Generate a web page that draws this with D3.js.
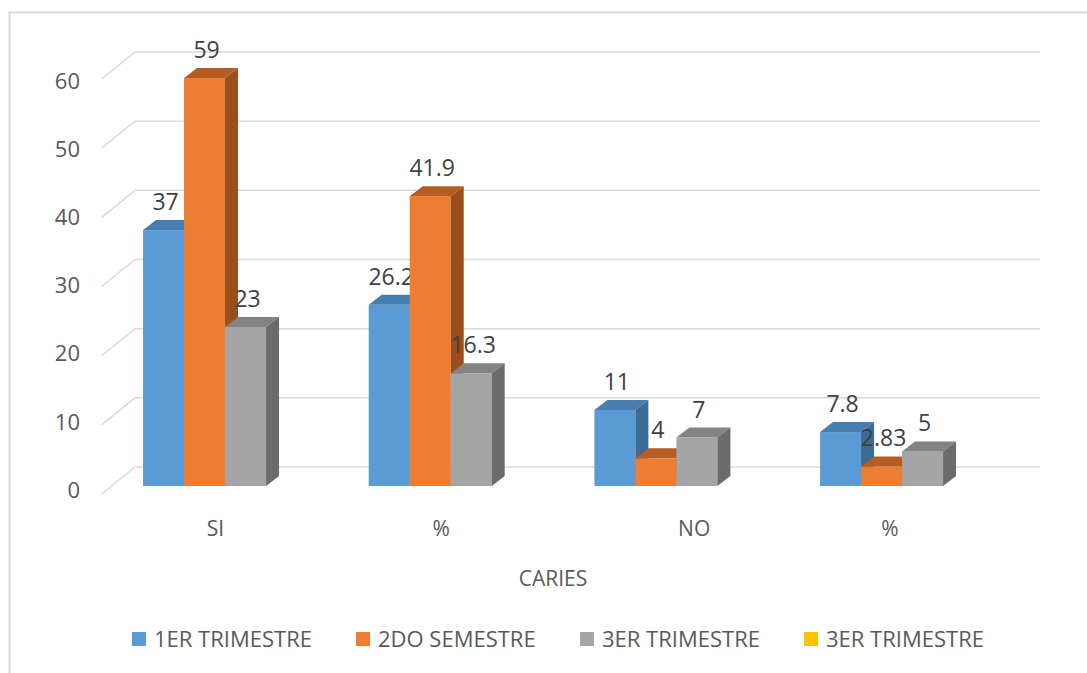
<!DOCTYPE html>
<html>
<head>
<meta charset="utf-8">
<script src="https://cdn.jsdelivr.net/npm/d3@7"></script>
<style>
  body { margin: 0; background: #fff; }
  text { font-family: "Open Sans", "Noto Sans", sans-serif; }
</style>
</head>
<body>
<svg width="1087" height="673"></svg>
<script>
// categories and series
var categories = ["SI", "%", "          NO", "% "];
var series = ["1ER TRIMESTRE", "2DO SEMESTRE", "3ER TRIMESTRE"];
var legendNames = ["1ER TRIMESTRE", "2DO SEMESTRE", "3ER TRIMESTRE", "3ER TRIMESTRE"];
var trim1 = [37, 26.2, 11, 7.8];
var sem2 = [59, 41.9, 4, 2.83];
var trim3 = [23, 16.3, 7, 5];
var yTicks = [0, 10, 20, 30, 40, 50, 60];
var axisTitle = "CARIES";

var colors = ["#5b9bd5", "#ed7d31", "#a5a5a5", "#ffc000"];
var topColors = ["#487db0", "#b65d23", "#838383"];
var sideColors = ["#3d6b96", "#9a4e1c", "#6b6b6b"];

var svg = d3.select("svg");

// outer border
svg.append("rect")
    .attr("x", 9.5).attr("y", 12.5)
    .attr("width", 1100).attr("height", 700)
    .attr("fill", "none")
    .attr("stroke", "#d9d9d9")
    .attr("stroke-width", 2);

// value -> height
var yS = d3.scaleLinear().domain([0, 60]).range([0, 415]);
// tick label positions
var yLab = d3.scaleLinear().domain([0, 60]).range([490, 81]);

var frontX = 101.7, frontBase = 494;   // front edge of the side wall
var backX = 135, backBase = 467;       // back wall
var rightX = 1040;

// gridlines
var grid = svg.append("g");
yTicks.forEach(function(t) {
    grid.append("path")
        .attr("d", "M" + frontX + "," + (frontBase - yS(t)) +
                   "L" + backX + "," + (backBase - yS(t)) +
                   "L" + rightX + "," + (backBase - yS(t)))
        .attr("fill", "none")
        .attr("stroke", "#d9d9d9")
        .attr("stroke-width", 1.5);
});

// y labels
svg.append("g").selectAll("text")
    .data(yTicks)
    .enter()
    .append("text")
    .attr("x", 80)
    .attr("y", function(d) { return yLab(d); })
    .attr("dy", "0.35em")
    .attr("text-anchor", "end")
    .attr("font-size", 22)
    .attr("fill", "#595959")
    .text(function(d) { return d; });

// bars
var x0 = d3.scaleBand()
    .domain(categories)
    .range([91.7, 994.4])
    .paddingInner(0.455)
    .paddingOuter(0.2275);

var x1 = d3.scaleBand()
    .domain(series)
    .range([0, x0.bandwidth()]);

var barBase = 486;
var dx = 13, dy = 10;

var dataset = [];
categories.forEach(function(c, i) {
    [trim1[i], sem2[i], trim3[i]].forEach(function(v, s) {
        dataset.push({cat: c, s: s, value: v});
    });
});

var bars = svg.append("g").selectAll("g")
    .data(dataset)
    .enter()
    .append("g");

bars.each(function(d) {
    var g = d3.select(this);
    var xl = x0(d.cat) + x1(series[d.s]);
    var w = x1.bandwidth();
    var yt = barBase - yS(d.value);
    // front
    g.append("rect")
        .attr("x", xl).attr("y", yt)
        .attr("width", w).attr("height", barBase - yt)
        .attr("fill", colors[d.s]);
    // top
    g.append("path")
        .attr("d", "M" + xl + "," + yt + "L" + (xl + dx) + "," + (yt - dy) +
                   "L" + (xl + w + dx) + "," + (yt - dy) + "L" + (xl + w) + "," + yt + "Z")
        .attr("fill", topColors[d.s]);
    // side
    g.append("path")
        .attr("d", "M" + (xl + w) + "," + yt + "L" + (xl + w + dx) + "," + (yt - dy) +
                   "L" + (xl + w + dx) + "," + (barBase - dy) + "L" + (xl + w) + "," + barBase + "Z")
        .attr("fill", sideColors[d.s]);
    // value label
    g.append("text")
        .attr("x", xl + w / 2 + 2)
        .attr("y", yt - 20)
        .attr("text-anchor", "middle")
        .attr("font-size", 23)
        .attr("fill", "#404040")
        .text(d.value);
});

// category labels
svg.append("g").selectAll("text")
    .data(categories)
    .enter()
    .append("text")
    .attr("x", function(d) { return x0(d) + x0.bandwidth() / 2 + 11; })
    .attr("y", 536)
    .attr("text-anchor", "middle")
    .attr("font-size", 21)
    .attr("fill", "#595959")
    .style("white-space", "pre")
    .text(function(d) { return d; });

// axis title
svg.append("text")
    .attr("x", 553)
    .attr("y", 586)
    .attr("text-anchor", "middle")
    .attr("font-size", 21)
    .attr("fill", "#595959")
    .text(axisTitle);

// legend
var legend = svg.append("g").selectAll("g")
    .data(legendNames)
    .enter()
    .append("g")
    .attr("transform", function(d, i) { return "translate(" + (132 + i * 224) + ",632)"; });

legend.append("rect")
    .attr("width", 14).attr("height", 14)
    .attr("fill", function(d, i) { return colors[i]; });

legend.append("text")
    .attr("x", 22)
    .attr("y", 15)
    .attr("font-size", 22)
    .attr("fill", "#595959")
    .text(function(d) { return d; });
</script>
</body>
</html>
